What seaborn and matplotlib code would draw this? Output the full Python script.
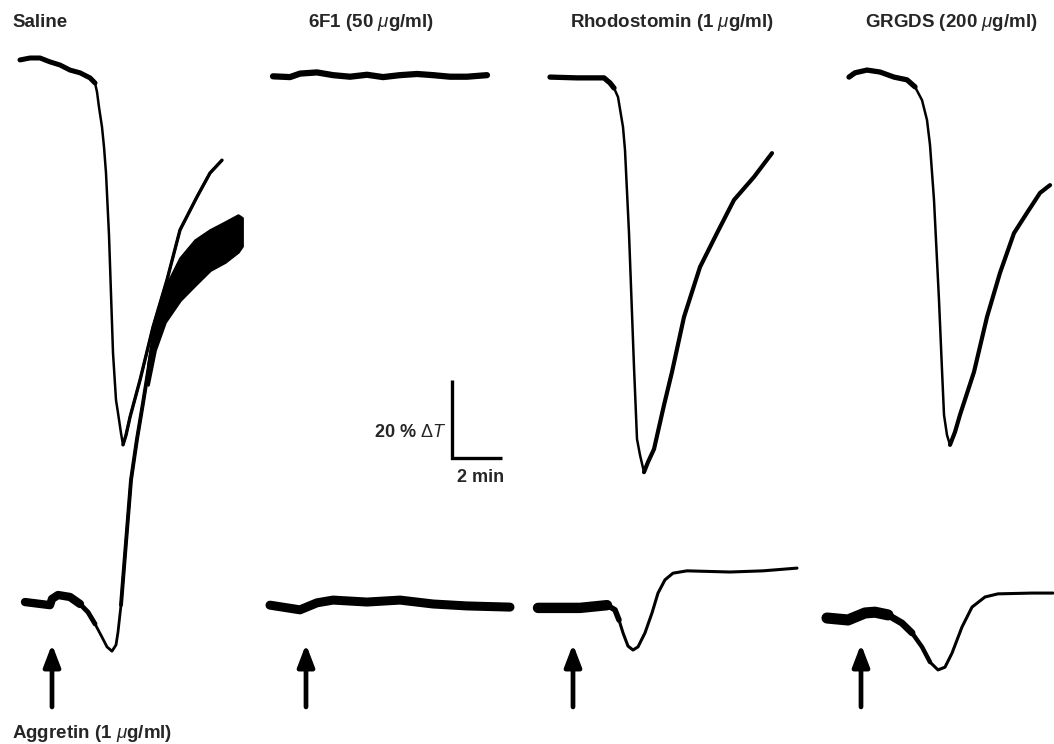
import numpy as np
import pandas as pd
import seaborn as sns
import matplotlib.pyplot as plt

sns.set_theme(style="white")
plt.rcParams["font.family"] = ["Liberation Sans", "DejaVu Sans"]
plt.rcParams["mathtext.fontset"] = "custom"
plt.rcParams["mathtext.it"] = "Liberation Sans:italic"
plt.rcParams["mathtext.rm"] = "Liberation Sans"

# panel titles
panels = ["Saline", "6F1 (50 $\\mu$g/ml)", "Rhodostomin (1 $\\mu$g/ml)", "GRGDS (200 $\\mu$g/ml)"]
agonist = "Aggretin (1 $\\mu$g/ml)"

# time in min after aggretin addition, level in %T (chart level)
saline_top_t = [-1.28, -0.88, -0.48, -0.08, 0.32, 0.72, 1.12, 1.52, 1.72, 1.80, 1.88, 2.00, 2.08,
                2.16, 2.28, 2.44, 2.56, 2.64, 2.76, 2.84, 2.96, 3.12, 3.52, 4.04, 4.60, 5.12,
                5.80, 6.32, 6.80]
saline_top_y = [175.4, 175.9, 175.9, 174.9, 174.1, 172.8, 172.1, 170.8, 169.5, 167.2, 163.3, 158.2, 153.1,
                146.4, 130.5, 100.3, 88.2, 84.9, 79.7, 76.7, 79.2, 83.8, 93.3, 106.9, 119.0, 131.8,
                140.3, 146.4, 149.7]
saline_bot_t = [-1.08, -0.08, 0.0, 0.24, 0.72, 1.12, 1.44, 1.72, 2.00, 2.20, 2.40, 2.56, 2.64,
                2.76, 2.92, 3.16, 3.40, 3.64, 4.00, 4.32]
saline_bot_y = [36.4, 35.6, 37.2, 38.2, 37.7, 35.9, 33.8, 30.8, 27.4, 24.9, 23.8, 25.4, 28.7,
                35.6, 48.5, 67.7, 78.2, 87.4, 101.8, 112.1]
# noisy band of the saline lower trace after the rise
saline_band_t = [3.84, 4.12, 4.52, 5.12, 5.72, 6.32, 6.92, 7.44, 7.60]
saline_band_lo = [92.1, 101.0, 108.2, 113.8, 117.7, 121.5, 123.6, 126.2, 127.7]
saline_band_hi = [97.2, 108.7, 116.9, 124.6, 129.2, 131.8, 133.8, 135.6, 134.9]

f6_top_t = [-1.32, -0.64, -0.24, 0.44, 1.08, 1.76, 2.44, 3.08, 3.76, 4.44, 5.08, 5.76, 6.44, 7.24]
f6_top_y = [171.2, 171.0, 171.9, 172.2, 171.5, 171.1, 171.6, 171.0, 171.5, 171.8, 171.5, 171.1, 171.1, 171.5]
f6_bot_t = [-1.44, -0.24, 0.44, 1.08, 2.44, 3.76, 5.08, 6.44, 8.16]
f6_bot_y = [35.6, 34.4, 36.2, 36.9, 36.4, 36.9, 35.9, 35.4, 35.1]

rho_top_t = [-0.92, 0.16, 1.24, 1.48, 1.64, 1.80, 2.00, 2.08, 2.24, 2.44, 2.56, 2.68, 2.84, 3.00,
             3.24, 3.64, 3.96, 4.44, 5.08, 5.76, 6.44, 7.24, 7.96]
rho_top_y = [171.0, 170.8, 170.8, 169.5, 168.2, 165.9, 158.2, 152.3, 131.0, 96.7, 78.2, 74.1, 69.7, 72.3,
             75.6, 86.9, 95.4, 109.5, 122.3, 131.0, 139.5, 145.4, 151.5]
rho_bot_t = [-1.40, -0.40, 0.28, 1.36, 1.68, 1.84, 2.00, 2.20, 2.40, 2.60, 2.88, 3.16, 3.40,
             3.68, 4.00, 4.56, 6.28, 7.60, 8.96]
rho_bot_y = [34.9, 34.9, 34.9, 35.6, 34.4, 31.8, 28.5, 25.1, 24.1, 24.9, 28.5, 33.6, 38.7,
             42.1, 43.8, 44.4, 44.1, 44.4, 45.1]

grg_top_t = [-0.48, -0.24, 0.24, 0.76, 1.32, 1.84, 2.16, 2.44, 2.64, 2.76, 2.92, 3.12, 3.24, 3.32,
             3.44, 3.56, 3.76, 3.96, 4.52, 5.04, 5.56, 6.12, 6.64, 7.16, 7.56]
grg_top_y = [171.0, 172.1, 172.8, 172.3, 171.0, 170.3, 168.5, 165.1, 160.0, 153.6, 139.5, 113.8, 95.9, 84.4,
             79.2, 76.7, 80.0, 84.4, 95.4, 109.5, 120.8, 131.0, 136.2, 141.3, 143.3]
grg_bot_t = [-1.36, -0.52, 0.16, 0.56, 1.08, 1.64, 2.04, 2.44, 2.76, 3.08, 3.36, 3.64, 4.04,
             4.44, 4.96, 5.48, 6.84, 7.68]
grg_bot_y = [32.3, 31.8, 33.6, 33.8, 33.1, 31.0, 28.5, 24.9, 21.0, 19.0, 19.7, 23.3, 30.0,
             35.1, 37.7, 38.5, 38.7, 38.7]

# layout: aggretin addition time of each panel on the page (min), title x
panel_x = [2.08, 12.24, 22.92, 34.44]
title_x = [0.48, 12.32, 22.8, 34.6]

traces = [
    # panel, t, y, base linewidth, [(t_from, t_to, thicker lw) for noisy stretches]
    (0, saline_top_t, saline_top_y, 1.8, [(-9, 1.75, 3.6), (2.84, 9, 2.4)]),
    (0, saline_bot_t, saline_bot_y, 2.0, [(-9, 1.3, 6.0), (1.1, 1.8, 3.5), (2.76, 9, 2.8)]),
    (1, f6_top_t, f6_top_y, 4.5, []),
    (1, f6_bot_t, f6_bot_y, 6.5, []),
    (2, rho_top_t, rho_top_y, 1.8, [(-9, 1.65, 3.8), (2.84, 9, 3.0)]),
    (2, rho_bot_t, rho_bot_y, 2.2, [(-9, 1.45, 7.5), (1.3, 1.9, 4.0)]),
    (3, grg_top_t, grg_top_y, 1.8, [(-9, 2.2, 3.8), (3.56, 9, 3.0)]),
    (3, grg_bot_t, grg_bot_y, 2.2, [(-9, 1.2, 8.0), (1.0, 2.1, 5.0), (2.0, 2.8, 3.2)]),
]

fig = plt.figure(figsize=(10.54, 7.44), dpi=100)
ax = fig.add_axes([0, 0, 1, 1])

for p, t, y, lw, noisy in traces:
    tt = np.array(t)
    df = pd.DataFrame({"time": tt + panel_x[p], "level": y})
    sns.lineplot(data=df, x="time", y="level", sort=False, estimator=None,
                 color="black", linewidth=lw, solid_capstyle="round",
                 solid_joinstyle="round", ax=ax)
    for t0, t1, nlw in noisy:
        part = df[(tt >= t0) & (tt <= t1)]
        if len(part) > 1:
            sns.lineplot(data=part, x="time", y="level", sort=False, estimator=None,
                         color="black", linewidth=nlw, solid_capstyle="round",
                         solid_joinstyle="round", ax=ax)

band_x = np.array(saline_band_t) + panel_x[0]
ax.fill_between(band_x, saline_band_lo, saline_band_hi, color="black", lw=2.0, edgecolor="black")

# arrows marking aggretin addition
for x in panel_x:
    ax.annotate("", xy=(x, 25.6), xytext=(x, 9.5),
                arrowprops=dict(arrowstyle="-|>,head_length=1.1,head_width=0.42",
                                color="black", lw=3.4, shrinkA=0, shrinkB=0))

# scale bar
ax.plot([18.08, 18.08, 20.08], [93.3, 73.3, 73.3], color="black", lw=2.4,
        solid_joinstyle="miter", solid_capstyle="butt")
ax.text(17.85, 80.0, "20 % $\\mathit{ΔT}$", ha="right", va="center", fontsize=13, fontweight="bold")
ax.text(19.24, 68.3, "2 min", ha="center", va="center", fontsize=13, fontweight="bold")

for name, x in zip(panels, title_x):
    ax.text(x, 185.1, name, ha="left", va="center", fontsize=13.5, fontweight="bold")
ax.text(0.48, 2.6, agonist, ha="left", va="center", fontsize=13.5, fontweight="bold")

ax.set_xlim(0, 1054 / 25)
ax.set_ylim(0, 744 / 3.9)
ax.set_axis_off()

fig.savefig("out.png", dpi=100)
